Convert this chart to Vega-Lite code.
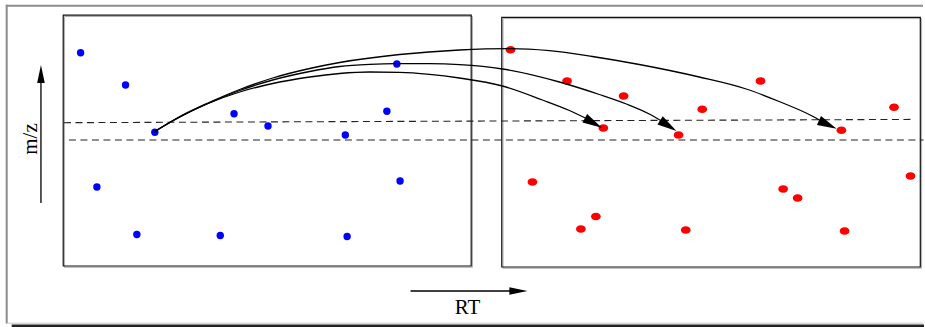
{
  "$schema": "https://vega.github.io/schema/vega-lite/v6.json",
  "width": 925,
  "height": 327,
  "padding": 0,
  "autosize": {"type": "fit", "contains": "padding"},
  "background": "white",
  "config": {"view": {"stroke": null}},
  "datasets": {
    "frame": [
      {"x": 5.8, "y": 5.7, "x2": 924, "y2": 5.7},
      {"x": 6.7, "y": 4.8, "x2": 6.7, "y2": 323.5}
    ],
    "bottomLight": [{"x": 7, "y": 323.2, "x2": 924, "y2": 323.2}],
    "bottomBar": [{"x": 11.7, "y": 324.6, "x2": 925, "y2": 327}],
    "panels": [
      {"x": 63.3, "y": 15.2, "x2": 471.7, "y2": 266},
      {"x": 502.3, "y": 17.3, "x2": 921.3, "y2": 267}
    ],
    "blue": [
      {"x": 80.7, "y": 52.7}, {"x": 125.7, "y": 85}, {"x": 155, "y": 132.3},
      {"x": 234.3, "y": 113.7}, {"x": 268.3, "y": 126}, {"x": 345.7, "y": 135},
      {"x": 387.3, "y": 111.3}, {"x": 397.3, "y": 64}, {"x": 97, "y": 187},
      {"x": 400.5, "y": 181}, {"x": 137, "y": 234.5}, {"x": 220.5, "y": 235.5},
      {"x": 347.5, "y": 236.5}
    ],
    "red": [
      {"x": 511, "y": 49.7}, {"x": 567.7, "y": 81}, {"x": 624.3, "y": 96},
      {"x": 604, "y": 128}, {"x": 679.3, "y": 135}, {"x": 703, "y": 109.3},
      {"x": 761.3, "y": 81}, {"x": 895, "y": 107.3}, {"x": 842.3, "y": 130.3},
      {"x": 533, "y": 182}, {"x": 784, "y": 189}, {"x": 798.5, "y": 198},
      {"x": 911.5, "y": 176}, {"x": 596.5, "y": 216.5}, {"x": 581.5, "y": 229},
      {"x": 686.5, "y": 230}, {"x": 845.5, "y": 231}
    ],
    "dashes": [
      {"x": 64, "y": 122.7, "x2": 913.5, "y2": 119.4},
      {"x": 69, "y": 140, "x2": 924.5, "y2": 140}
    ],
    "curves": [
      {"c": "a", "o": 0, "x": 154, "y": 132}, {"c": "a", "o": 1, "x": 180, "y": 117},
      {"c": "a", "o": 2, "x": 207, "y": 104}, {"c": "a", "o": 3, "x": 240, "y": 92},
      {"c": "a", "o": 4, "x": 273, "y": 83.5}, {"c": "a", "o": 5, "x": 310, "y": 77},
      {"c": "a", "o": 6, "x": 340, "y": 73.5}, {"c": "a", "o": 7, "x": 370, "y": 72},
      {"c": "a", "o": 8, "x": 400, "y": 72.3}, {"c": "a", "o": 9, "x": 430, "y": 74.3},
      {"c": "a", "o": 10, "x": 460, "y": 78}, {"c": "a", "o": 11, "x": 503, "y": 86},
      {"c": "a", "o": 12, "x": 543, "y": 100}, {"c": "a", "o": 13, "x": 570, "y": 110.5},
      {"c": "a", "o": 14, "x": 588, "y": 119},
      {"c": "b", "o": 0, "x": 154, "y": 132}, {"c": "b", "o": 1, "x": 180, "y": 117},
      {"c": "b", "o": 2, "x": 207, "y": 104}, {"c": "b", "o": 3, "x": 240, "y": 90.5},
      {"c": "b", "o": 4, "x": 273, "y": 80}, {"c": "b", "o": 5, "x": 310, "y": 71.5},
      {"c": "b", "o": 6, "x": 340, "y": 66.5}, {"c": "b", "o": 7, "x": 370, "y": 64.3},
      {"c": "b", "o": 8, "x": 397, "y": 63.6}, {"c": "b", "o": 9, "x": 430, "y": 63.7},
      {"c": "b", "o": 10, "x": 460, "y": 64.7}, {"c": "b", "o": 11, "x": 503, "y": 69},
      {"c": "b", "o": 12, "x": 560, "y": 82}, {"c": "b", "o": 13, "x": 600, "y": 94.5},
      {"c": "b", "o": 14, "x": 627, "y": 104}, {"c": "b", "o": 15, "x": 650, "y": 114},
      {"c": "b", "o": 16, "x": 663, "y": 121.5},
      {"c": "c", "o": 0, "x": 154, "y": 132}, {"c": "c", "o": 1, "x": 180, "y": 116.5},
      {"c": "c", "o": 2, "x": 207, "y": 103.5}, {"c": "c", "o": 3, "x": 240, "y": 89.5},
      {"c": "c", "o": 4, "x": 273, "y": 78}, {"c": "c", "o": 5, "x": 310, "y": 68.5},
      {"c": "c", "o": 6, "x": 340, "y": 62.5}, {"c": "c", "o": 7, "x": 400, "y": 54.5},
      {"c": "c", "o": 8, "x": 460, "y": 50}, {"c": "c", "o": 9, "x": 510, "y": 48.7},
      {"c": "c", "o": 10, "x": 550, "y": 50.7}, {"c": "c", "o": 11, "x": 593, "y": 56.5},
      {"c": "c", "o": 12, "x": 640, "y": 64.5}, {"c": "c", "o": 13, "x": 700, "y": 77},
      {"c": "c", "o": 14, "x": 747, "y": 89}, {"c": "c", "o": 15, "x": 780, "y": 101.5},
      {"c": "c", "o": 16, "x": 813, "y": 116}, {"c": "c", "o": 17, "x": 821, "y": 120.5}
    ],
    "tipA": [{"x": 594, "y": 122.9}],
    "tipB": [{"x": 669, "y": 125.7}],
    "tipC": [{"x": 828.7, "y": 124.6}],
    "axisRules": [
      {"x": 41, "y": 203, "x2": 41, "y2": 78},
      {"x": 411, "y": 291, "x2": 514, "y2": 291}
    ],
    "tipMz": [{"x": 41, "y": 74}],
    "tipRt": [{"x": 519, "y": 291}],
    "labelMz": [{"x": 37, "y": 139, "t": "m/z"}],
    "labelRt": [{"x": 468, "y": 314, "t": "RT"}]
  },
  "encoding": {
    "x": {"field": "x", "type": "quantitative", "axis": null,
          "scale": {"domain": [0, 925], "nice": false, "zero": false}},
    "y": {"field": "y", "type": "quantitative", "axis": null,
          "scale": {"domain": [0, 327], "nice": false, "zero": false, "reverse": true}}
  },
  "layer": [
    {"data": {"name": "frame"}, "mark": {"type": "rule", "color": "#8c8c8c", "strokeWidth": 2},
     "encoding": {"x2": {"field": "x2"}, "y2": {"field": "y2"}}},
    {"data": {"name": "bottomLight"}, "mark": {"type": "rule", "color": "#c8c8c8", "strokeWidth": 1},
     "encoding": {"x2": {"field": "x2"}, "y2": {"field": "y2"}}},
    {"data": {"name": "bottomBar"}, "mark": {"type": "rect", "color": "#222222"},
     "encoding": {"x2": {"field": "x2"}, "y2": {"field": "y2"}}},
    {"data": {"name": "panels"}, "mark": {"type": "rect", "filled": false, "stroke": "#b0b0b0", "strokeWidth": 1, "xOffset": 1.3, "yOffset": 1.3, "x2Offset": 1.3, "y2Offset": 1.3},
     "encoding": {"x2": {"field": "x2"}, "y2": {"field": "y2"}}},
    {"data": {"name": "panels"}, "mark": {"type": "rect", "filled": false, "stroke": "#111111", "strokeWidth": 1.2},
     "encoding": {"x2": {"field": "x2"}, "y2": {"field": "y2"}}},
    {"data": {"name": "dashes"}, "mark": {"type": "rule", "color": "#222222", "strokeWidth": 1.1, "strokeDash": [7, 4.5]},
     "encoding": {"x2": {"field": "x2"}, "y2": {"field": "y2"}}},
    {"data": {"name": "blue"}, "mark": {"type": "point", "shape": "circle", "filled": true, "color": "#0000ff", "size": 55, "opacity": 1, "strokeWidth": 0}},
    {"data": {"name": "red"}, "mark": {"type": "point", "shape": "M-1.15,0A1.15,0.9 0 1,0 1.15,0A1.15,0.9 0 1,0 -1.15,0Z", "filled": true, "color": "#ff0000", "size": 72, "opacity": 1, "strokeWidth": 0}},
    {"data": {"name": "curves"}, "mark": {"type": "line", "color": "#000000", "strokeWidth": 1.3, "interpolate": "monotone"},
     "encoding": {"detail": {"field": "c"}, "order": {"field": "o", "type": "quantitative"}}},
    {"data": {"name": "tipA"}, "mark": {"type": "point", "shape": "M0,-1L0.5,1L-0.5,1Z", "filled": true, "color": "#000000", "size": 380, "angle": 119, "opacity": 1, "strokeWidth": 0}},
    {"data": {"name": "tipB"}, "mark": {"type": "point", "shape": "M0,-1L0.5,1L-0.5,1Z", "filled": true, "color": "#000000", "size": 380, "angle": 123, "opacity": 1, "strokeWidth": 0}},
    {"data": {"name": "tipC"}, "mark": {"type": "point", "shape": "M0,-1L0.5,1L-0.5,1Z", "filled": true, "color": "#000000", "size": 380, "angle": 115, "opacity": 1, "strokeWidth": 0}},
    {"data": {"name": "axisRules"}, "mark": {"type": "rule", "color": "#000000", "strokeWidth": 1.3},
     "encoding": {"x2": {"field": "x2"}, "y2": {"field": "y2"}}},
    {"data": {"name": "tipMz"}, "mark": {"type": "point", "shape": "M0,-1L0.42,1L-0.42,1Z", "filled": true, "color": "#000000", "size": 330, "angle": 0, "opacity": 1, "strokeWidth": 0}},
    {"data": {"name": "tipRt"}, "mark": {"type": "point", "shape": "M0,-1L0.42,1L-0.42,1Z", "filled": true, "color": "#000000", "size": 330, "angle": 90, "opacity": 1, "strokeWidth": 0}},
    {"data": {"name": "labelMz"}, "mark": {"type": "text", "font": "Liberation Serif", "fontSize": 21, "angle": 270, "align": "center", "baseline": "alphabetic", "color": "#000000"},
     "encoding": {"text": {"field": "t"}}},
    {"data": {"name": "labelRt"}, "mark": {"type": "text", "font": "Liberation Serif", "fontSize": 21, "align": "center", "baseline": "alphabetic", "color": "#000000"},
     "encoding": {"text": {"field": "t"}}}
  ]
}
